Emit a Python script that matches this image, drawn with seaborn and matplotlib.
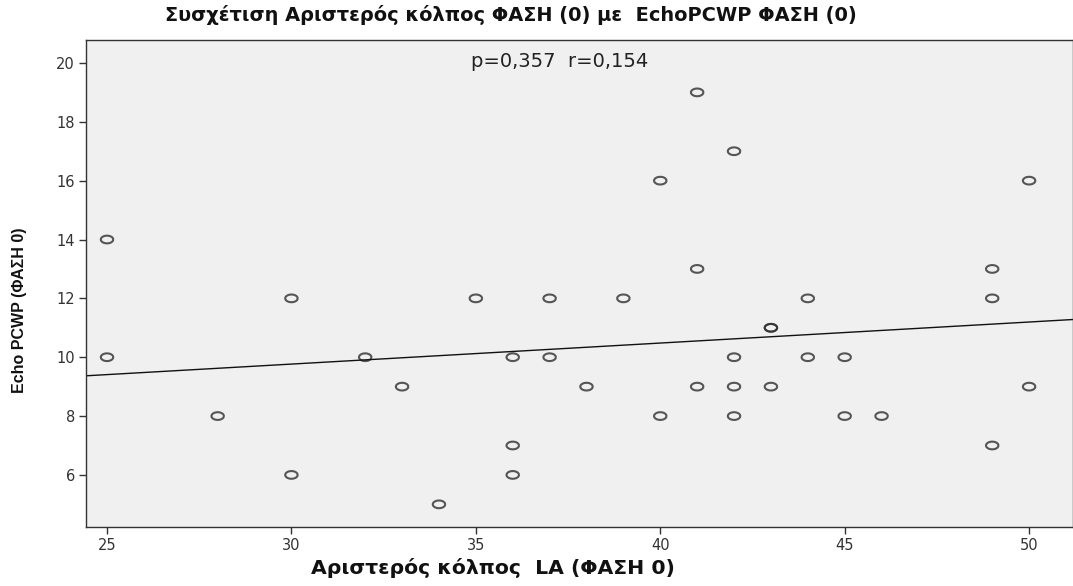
import numpy as np
import pandas as pd
import matplotlib
matplotlib.use("Agg")
import matplotlib.pyplot as plt
from matplotlib.path import Path
import seaborn as sns

# Data (n = 38; (43, 11) appears twice)
la_phase0 = [25, 25, 28, 30, 30, 32, 33, 34, 35, 36, 36, 36, 37, 37, 38, 39,
             40, 40, 41, 41, 41, 42, 42, 42, 42, 43, 43, 43, 44, 44, 45, 45,
             46, 49, 49, 49, 50, 50]
pcwp_phase0 = [14, 10, 8, 12, 6, 10, 9, 5, 12, 10, 7, 6, 12, 10, 9, 12,
               16, 8, 19, 13, 9, 17, 10, 9, 8, 11, 11, 9, 12, 10, 10, 8,
               8, 13, 12, 7, 16, 9]
x_ticks = [25, 30, 35, 40, 45, 50]
y_ticks = [6, 8, 10, 12, 14, 16, 18, 20]

title = "Συσχέτιση Αριστερός κόλπος ΦΑΣΗ (0) με  EchoPCWP ΦΑΣΗ (0)"
xlabel = "Αριστερός κόλπος  LA (ΦΑΣΗ 0)"
ylabel = "Echo PCWP (ΦΑΣΗ 0)"
stat_text = "p=0,357  r=0,154"

df = pd.DataFrame({"x": la_phase0, "y": pcwp_phase0})

sns.set_theme(style="white")
plt.rcParams["font.family"] = ["DejaVu Sans"]

W, H = 1073, 586
fig = plt.figure(figsize=(W / 100, H / 100), dpi=100)
ax = fig.add_axes([86 / W, 59 / H, (W - 86) / W, (527 - 40) / H])
ax.set_facecolor("#F0F0F0")

# elliptical open marker
t = np.linspace(0, 2 * np.pi, 41)
ell = Path(np.column_stack([np.cos(t), 0.62 * np.sin(t)]))

sns.regplot(data=df, x="x", y="y", ax=ax, ci=None, truncate=False,
            marker=ell,
            scatter_kws=dict(s=80, facecolors="none",
                             edgecolors="#2E2E2E", linewidths=1.5),
            line_kws=dict(color="#111111", lw=1.0))

ax.set_xlim(24.43, 51.19)
ax.set_ylim(4.23, 20.78)
ax.set_xticks(x_ticks)
ax.set_yticks(y_ticks)
ax.tick_params(axis="both", which="both", direction="out", length=5,
               width=1, color="#333333", labelsize=10.5, labelcolor="#333333",
               left=True, bottom=True, pad=3)
for s in ax.spines.values():
    s.set_color("#333333")
    s.set_linewidth(1.0)
ax.set_xlabel("")
ax.set_ylabel("")

renderer = fig.canvas.get_renderer()


def fit_width(txt, target_px):
    w = txt.get_window_extent(renderer).width
    txt.set_fontsize(txt.get_fontsize() * target_px / w)


st = ax.text(0.48, 0.955, stat_text, transform=ax.transAxes, ha="center",
             va="center", fontsize=12, color="#222222")
fit_width(st, 176)

tt = fig.text(511 / W, 1 - 15 / H, title, ha="center", va="center",
              fontsize=13, fontweight="bold", color="#111111")
fit_width(tt, 690)

xl = fig.text(493 / W, 1 - 568 / H, xlabel, ha="center", va="center",
              fontsize=tt.get_fontsize() * 1.05, fontweight="bold",
              color="#111111")

yl = fig.text(20 / W, 1 - 310 / H, ylabel, ha="center", va="center",
              rotation=90, fontsize=11.5, fontweight="bold", color="#111111",
              family=["Liberation Sans", "DejaVu Sans"])

fig.savefig("out.png", dpi=100, facecolor="white")
